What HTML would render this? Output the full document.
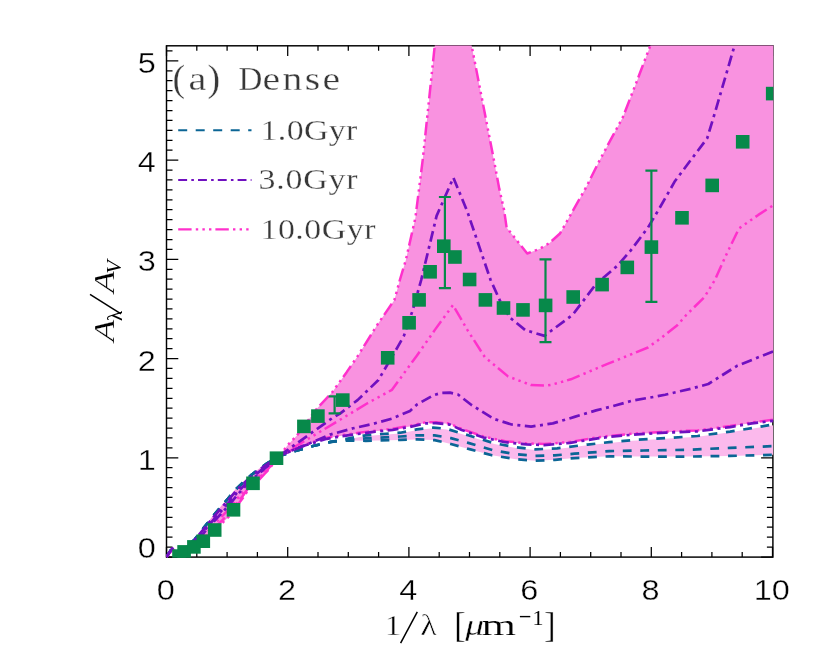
<!DOCTYPE html>
<html><head><meta charset="utf-8"><title>chart</title>
<style>
html,body{margin:0;padding:0;background:#fff;}
body{width:830px;height:656px;overflow:hidden;}
svg{display:block;will-change:transform;}
text{font-family:"Liberation Sans",sans-serif;stroke:#fff;stroke-width:0.35px;}
.ser{font-family:"Liberation Serif",serif;stroke-width:0.3px;}
</style></head><body>
<svg width="830" height="656" viewBox="0 0 830 656">
<rect x="0" y="0" width="830" height="656" fill="#fff"/>
<defs><clipPath id="c"><rect x="166.5" y="45.5" width="606.8" height="512.3"/></clipPath></defs>

<g stroke="#000" fill="none" stroke-linecap="butt">
<rect x="166.5" y="45.8" width="606.4" height="511.3" stroke-width="1.45"/>
<path d="M166.50,557.1 v-10.2 M166.50,45.8 v10.2 M196.80,557.1 v-5.0 M196.80,45.8 v5.0 M227.10,557.1 v-5.0 M227.10,45.8 v5.0 M257.40,557.1 v-5.0 M257.40,45.8 v5.0 M287.70,557.1 v-10.2 M287.70,45.8 v10.2 M318.00,557.1 v-5.0 M318.00,45.8 v5.0 M348.30,557.1 v-5.0 M348.30,45.8 v5.0 M378.60,557.1 v-5.0 M378.60,45.8 v5.0 M408.90,557.1 v-10.2 M408.90,45.8 v10.2 M439.20,557.1 v-5.0 M439.20,45.8 v5.0 M469.50,557.1 v-5.0 M469.50,45.8 v5.0 M499.80,557.1 v-5.0 M499.80,45.8 v5.0 M530.10,557.1 v-10.2 M530.10,45.8 v10.2 M560.40,557.1 v-5.0 M560.40,45.8 v5.0 M590.70,557.1 v-5.0 M590.70,45.8 v5.0 M621.00,557.1 v-5.0 M621.00,45.8 v5.0 M651.30,557.1 v-10.2 M651.30,45.8 v10.2 M681.60,557.1 v-5.0 M681.60,45.8 v5.0 M711.90,557.1 v-5.0 M711.90,45.8 v5.0 M742.20,557.1 v-5.0 M742.20,45.8 v5.0 M772.50,557.1 v-10.2 M772.50,45.8 v10.2 M166.5,557.00 h11.8 M772.9,557.00 h-11.8 M166.5,547.08 h6.0 M772.9,547.08 h-6.0 M166.5,537.16 h6.0 M772.9,537.16 h-6.0 M166.5,527.23 h6.0 M772.9,527.23 h-6.0 M166.5,517.31 h6.0 M772.9,517.31 h-6.0 M166.5,507.39 h6.0 M772.9,507.39 h-6.0 M166.5,497.47 h6.0 M772.9,497.47 h-6.0 M166.5,487.55 h6.0 M772.9,487.55 h-6.0 M166.5,477.62 h6.0 M772.9,477.62 h-6.0 M166.5,467.70 h6.0 M772.9,467.70 h-6.0 M166.5,457.78 h11.8 M772.9,457.78 h-11.8 M166.5,447.86 h6.0 M772.9,447.86 h-6.0 M166.5,437.94 h6.0 M772.9,437.94 h-6.0 M166.5,428.01 h6.0 M772.9,428.01 h-6.0 M166.5,418.09 h6.0 M772.9,418.09 h-6.0 M166.5,408.17 h6.0 M772.9,408.17 h-6.0 M166.5,398.25 h6.0 M772.9,398.25 h-6.0 M166.5,388.33 h6.0 M772.9,388.33 h-6.0 M166.5,378.40 h6.0 M772.9,378.40 h-6.0 M166.5,368.48 h6.0 M772.9,368.48 h-6.0 M166.5,358.56 h11.8 M772.9,358.56 h-11.8 M166.5,348.64 h6.0 M772.9,348.64 h-6.0 M166.5,338.72 h6.0 M772.9,338.72 h-6.0 M166.5,328.79 h6.0 M772.9,328.79 h-6.0 M166.5,318.87 h6.0 M772.9,318.87 h-6.0 M166.5,308.95 h6.0 M772.9,308.95 h-6.0 M166.5,299.03 h6.0 M772.9,299.03 h-6.0 M166.5,289.11 h6.0 M772.9,289.11 h-6.0 M166.5,279.18 h6.0 M772.9,279.18 h-6.0 M166.5,269.26 h6.0 M772.9,269.26 h-6.0 M166.5,259.34 h11.8 M772.9,259.34 h-11.8 M166.5,249.42 h6.0 M772.9,249.42 h-6.0 M166.5,239.50 h6.0 M772.9,239.50 h-6.0 M166.5,229.57 h6.0 M772.9,229.57 h-6.0 M166.5,219.65 h6.0 M772.9,219.65 h-6.0 M166.5,209.73 h6.0 M772.9,209.73 h-6.0 M166.5,199.81 h6.0 M772.9,199.81 h-6.0 M166.5,189.89 h6.0 M772.9,189.89 h-6.0 M166.5,179.96 h6.0 M772.9,179.96 h-6.0 M166.5,170.04 h6.0 M772.9,170.04 h-6.0 M166.5,160.12 h11.8 M772.9,160.12 h-11.8 M166.5,150.20 h6.0 M772.9,150.20 h-6.0 M166.5,140.28 h6.0 M772.9,140.28 h-6.0 M166.5,130.35 h6.0 M772.9,130.35 h-6.0 M166.5,120.43 h6.0 M772.9,120.43 h-6.0 M166.5,110.51 h6.0 M772.9,110.51 h-6.0 M166.5,100.59 h6.0 M772.9,100.59 h-6.0 M166.5,90.67 h6.0 M772.9,90.67 h-6.0 M166.5,80.74 h6.0 M772.9,80.74 h-6.0 M166.5,70.82 h6.0 M772.9,70.82 h-6.0 M166.5,60.90 h11.8 M772.9,60.90 h-11.8 M166.5,50.98 h6.0 M772.9,50.98 h-6.0" stroke-width="1.25"/>
</g>
<g clip-path="url(#c)">
<path d="M348.0,439.2 L365.7,436.0 L400.4,433.4 L416.8,430.1 L433.3,428.3 L446.5,429.5 L468.2,436.0 L494.2,444.0 L515.9,447.9 L535.4,450.1 L557.1,449.0 L587.5,445.3 L609.2,442.9 L632.5,440.8 L665.1,438.8 L697.6,436.7 L730.1,432.3 L751.8,428.8 L773.3,425.2 L773.3,454.8 L730.1,455.9 L686.7,456.6 L643.4,456.6 L609.2,456.3 L574.5,458.1 L554.9,459.8 L535.4,460.7 L515.9,459.2 L492.0,455.3 L470.4,449.4 L450.8,444.0 L434.6,440.1 L416.8,439.4 L400.4,439.9 L365.7,440.8 L348.0,440.5 Z" fill="#fbb9ec"/>
<path d="M166.5,557.0 L169.5,552.0 L170.0,551.3 L172.3,548.3 L173.0,549.0 L177.0,553.0 L184.0,549.0 L184.1,548.9 L190.0,544.0 L193.9,540.1 L194.6,539.4 L202.4,529.1 L203.3,528.0 L213.4,515.3 L214.7,513.8 L221.6,505.5 L223.4,503.4 L228.9,497.0 L236.8,487.8 L242.3,482.8 L247.8,477.8 L251.9,474.1 L258.0,469.6 L265.0,464.5 L267.0,463.3 L273.0,459.6 L279.0,456.0 L284.9,448.8 L287.8,445.0 L297.1,435.2 L316.6,409.0 L332.4,392.0 L346.5,372.4 L357.8,355.9 L377.1,325.1 L394.4,300.0 L400.0,279.5 L405.8,260.2 L415.4,217.8 L422.7,160.0 L434.7,46.0 L440.0,-10.0 L453.0,-120.0 L466.0,-10.0 L471.7,46.0 L493.9,160.0 L499.3,188.9 L504.1,210.1 L506.6,227.5 L527.2,253.5 L540.0,248.7 L549.6,242.9 L560.0,233.5 L568.9,217.8 L586.3,187.0 L599.8,160.0 L622.9,117.1 L636.4,82.4 L649.9,46.7 L665.0,5.0 L700.0,-100.0 L790.0,-300.0 L790.0,-300.0 L790.0,420.8 L773.3,420.3 L751.8,422.9 L730.1,426.6 L697.6,430.9 L665.1,432.2 L632.5,434.2 L610.0,436.3 L596.1,438.1 L570.1,442.4 L544.1,444.6 L526.7,443.9 L505.1,441.7 L483.4,437.0 L461.7,429.4 L449.7,424.1 L436.0,422.7 L425.0,422.9 L410.0,426.4 L392.7,429.3 L375.3,431.2 L357.0,433.6 L340.0,436.0 L326.8,438.3 L300.0,446.5 L279.0,456.0 L273.0,464.0 L267.0,471.4 L265.0,473.5 L258.0,481.0 L251.9,486.7 L247.8,490.6 L242.3,498.8 L236.8,506.1 L228.9,516.7 L223.4,521.9 L221.6,523.6 L214.7,530.0 L213.4,531.3 L203.3,541.2 L202.4,541.7 L194.6,546.5 L193.9,546.9 L190.0,548.9 L184.1,551.9 L184.0,551.9 L177.0,554.0 L173.0,549.5 L172.3,550.2 L170.0,552.5 L169.5,553.1 L166.5,557.0 Z" fill="#f992e0"/>
<path d="M166.5,557.0 L169.5,552.0 L170.0,551.4 L172.3,548.4 L173.0,549.0 L177.0,553.0 L184.0,549.1 L184.1,549.0 L190.0,544.1 L193.9,540.3 L194.6,539.6 L202.4,529.5 L203.3,528.4 L213.4,515.8 L214.7,514.2 L221.6,506.1 L223.4,504.0 L228.9,497.6 L236.8,488.4 L242.3,483.3 L247.8,478.2 L251.9,474.5 L258.0,470.0 L265.0,464.8 L267.0,463.5 L273.0,459.8 L279.0,456.0 L295.3,451.0 L313.1,446.0 L330.9,441.9 L348.0,438.5 L365.7,435.3 L400.4,432.7 L416.8,429.4 L433.3,427.6 L446.5,428.8 L468.2,435.3 L494.2,443.3 L515.9,447.2 L535.4,449.4 L557.1,448.3 L587.5,444.6 L609.2,442.2 L632.5,440.1 L665.1,438.1 L697.6,436.0 L730.1,431.6 L751.8,428.1 L773.3,424.5" fill="none" stroke="#0b6595" stroke-width="2.7" stroke-dasharray="8.8 8.7" stroke-dashoffset="0.0" stroke-linejoin="round"/>
<path d="M166.5,557.0 L169.5,552.0 L170.0,551.4 L172.3,548.4 L173.0,549.0 L177.0,553.0 L184.0,549.1 L184.1,549.0 L190.0,544.1 L193.9,540.3 L194.6,539.6 L202.4,529.5 L203.3,528.4 L213.4,515.8 L214.7,514.2 L221.6,506.1 L223.4,504.0 L228.9,497.6 L236.8,488.4 L242.3,483.3 L247.8,478.2 L251.9,474.5 L258.0,470.0 L265.0,464.8 L267.0,463.5 L273.0,459.8 L279.0,456.0 L295.3,451.0 L313.1,446.0 L330.9,441.9 L348.0,439.5 L365.7,438.4 L400.4,436.5 L416.8,435.3 L434.6,435.3 L450.8,438.1 L468.2,442.9 L494.2,450.5 L515.9,454.2 L535.4,455.9 L554.9,455.3 L574.5,453.7 L609.2,451.1 L643.4,450.5 L686.7,449.8 L730.1,447.9 L773.3,446.1" fill="none" stroke="#0b6595" stroke-width="2.7" stroke-dasharray="8.8 8.7" stroke-dashoffset="0.0" stroke-linejoin="round"/>
<path d="M166.5,557.0 L169.5,552.0 L170.0,551.4 L172.3,548.4 L173.0,549.0 L177.0,553.0 L184.0,549.1 L184.1,549.0 L190.0,544.1 L193.9,540.3 L194.6,539.6 L202.4,529.5 L203.3,528.4 L213.4,515.8 L214.7,514.2 L221.6,506.1 L223.4,504.0 L228.9,497.6 L236.8,488.4 L242.3,483.3 L247.8,478.2 L251.9,474.5 L258.0,470.0 L265.0,464.8 L267.0,463.5 L273.0,459.8 L279.0,456.0 L295.3,451.0 L313.1,446.0 L330.9,441.9 L348.0,440.5 L365.7,440.8 L400.4,439.9 L416.8,439.4 L434.6,440.1 L450.8,444.0 L470.4,449.4 L492.0,455.3 L515.9,459.2 L535.4,460.7 L554.9,459.8 L574.5,458.1 L609.2,456.3 L643.4,456.6 L686.7,456.6 L730.1,455.9 L773.3,454.8" fill="none" stroke="#0b6595" stroke-width="2.7" stroke-dasharray="8.8 8.7" stroke-dashoffset="0.0" stroke-linejoin="round"/>
<path d="M166.5,557.0 L169.5,552.7 L170.0,552.1 L172.3,549.5 L173.0,549.3 L177.0,553.6 L184.0,550.8 L184.1,550.8 L190.0,547.0 L193.9,544.3 L194.6,543.8 L202.4,536.9 L203.3,536.2 L213.4,525.2 L214.7,523.8 L221.6,516.7 L223.4,514.9 L228.9,509.2 L236.8,499.2 L242.3,492.7 L247.8,485.7 L251.9,481.9 L258.0,476.7 L265.0,470.1 L267.0,468.3 L273.0,462.3 L279.0,456.0 L284.9,448.8 L287.8,445.0 L297.1,435.2 L316.6,409.0 L332.4,392.0 L346.5,372.4 L357.8,355.9 L377.1,325.1 L394.4,300.0 L400.0,279.5 L405.8,260.2 L415.4,217.8 L422.7,160.0 L434.7,46.0 L440.0,-10.0 L453.0,-120.0 L466.0,-10.0 L471.7,46.0 L493.9,160.0 L499.3,188.9 L504.1,210.1 L506.6,227.5 L527.2,253.5 L540.0,248.7 L549.6,242.9 L560.0,233.5 L568.9,217.8 L586.3,187.0 L599.8,160.0 L622.9,117.1 L636.4,82.4 L649.9,46.7 L665.0,5.0 L700.0,-100.0 L790.0,-300.0" fill="none" stroke="#ff30cc" stroke-width="2.5" stroke-dasharray="13.4 4.2 2.4 4.2 2.4 4.2 2.4 4.0" stroke-dashoffset="0.0" stroke-linejoin="round"/>
<path d="M166.5,557.0 L169.5,553.0 L170.0,552.3 L172.3,549.9 L173.0,549.4 L177.0,553.9 L184.0,551.5 L184.1,551.5 L190.0,548.2 L193.9,545.9 L194.6,545.4 L202.4,539.8 L203.3,539.2 L213.4,528.9 L214.7,527.6 L221.6,520.9 L223.4,519.1 L228.9,513.7 L236.8,503.4 L242.3,496.4 L247.8,488.7 L251.9,484.8 L258.0,479.3 L265.0,472.2 L267.0,470.2 L273.0,463.3 L279.0,456.0 L304.9,440.8 L340.0,419.8 L367.4,403.3 L392.0,389.8 L417.0,355.4 L434.7,330.1 L453.0,305.1 L467.5,330.1 L484.8,357.1 L508.0,376.4 L531.1,385.1 L546.5,385.6 L551.6,384.7 L570.8,379.3 L607.5,363.9 L648.0,347.5 L660.0,338.8 L677.3,325.3 L686.5,314.7 L704.3,297.3 L714.9,280.0 L725.5,256.4 L739.0,228.4 L758.3,214.9 L773.3,205.3" fill="none" stroke="#ff30cc" stroke-width="2.5" stroke-dasharray="13.4 4.2 2.4 4.2 2.4 4.2 2.4 4.0" stroke-dashoffset="11.0" stroke-linejoin="round"/>
<path d="M166.5,557.0 L169.5,553.1 L170.0,552.5 L172.3,550.2 L173.0,549.5 L177.0,554.0 L184.0,551.9 L184.1,551.9 L190.0,548.9 L193.9,546.9 L194.6,546.5 L202.4,541.7 L203.3,541.2 L213.4,531.3 L214.7,530.0 L221.6,523.6 L223.4,521.9 L228.9,516.7 L236.8,506.1 L242.3,498.8 L247.8,490.6 L251.9,486.7 L258.0,481.0 L265.0,473.5 L267.0,471.4 L273.0,464.0 L279.0,456.0 L300.0,446.0 L326.8,437.8 L340.0,435.5 L357.0,433.1 L375.3,430.7 L392.7,428.8 L410.0,425.9 L425.0,422.4 L436.0,422.2 L449.7,423.6 L461.7,428.9 L483.4,436.5 L505.1,441.2 L526.7,443.4 L544.1,444.1 L570.1,441.9 L596.1,437.6 L610.0,435.8 L632.5,433.7 L665.1,431.7 L697.6,430.4 L730.1,426.1 L751.8,422.4 L773.3,419.8" fill="none" stroke="#ff30cc" stroke-width="2.5" stroke-dasharray="13.4 4.2 2.4 4.2 2.4 4.2 2.4 4.0" stroke-dashoffset="20.0" stroke-linejoin="round"/>
<path d="M166.5,557.0 L169.5,552.1 L170.0,551.5 L172.3,548.5 L173.0,549.1 L177.0,553.1 L184.0,549.4 L184.1,549.3 L190.0,544.6 L193.9,540.9 L194.6,540.2 L202.4,530.6 L203.3,529.6 L213.4,517.2 L214.7,515.7 L221.6,507.7 L223.4,505.6 L228.9,499.4 L236.8,490.0 L242.3,484.7 L247.8,479.4 L251.9,475.6 L258.0,471.0 L265.0,465.6 L267.0,464.3 L273.0,460.2 L279.0,456.0 L315.8,429.8 L332.3,418.1 L340.0,413.6 L357.8,399.9 L378.4,380.0 L398.0,346.4 L403.9,335.9 L412.5,310.8 L421.2,280.0 L436.6,215.9 L453.4,177.7 L467.5,212.0 L490.6,280.0 L500.2,301.2 L509.9,317.6 L525.3,330.1 L544.6,335.9 L549.6,332.0 L572.8,314.7 L595.9,284.1 L617.1,266.0 L630.6,250.6 L648.0,227.5 L659.5,208.2 L674.9,181.2 L690.8,160.0 L707.2,138.3 L715.9,109.4 L725.5,76.6 L734.2,46.7 L743.0,16.0" fill="none" stroke="#7010c0" stroke-width="2.7" stroke-dasharray="10.8 4.5 3 4.5" stroke-dashoffset="0.0" stroke-linejoin="round"/>
<path d="M166.5,557.0 L169.5,552.3 L170.0,551.7 L172.3,548.8 L173.0,549.1 L177.0,553.3 L184.0,549.8 L184.1,549.8 L190.0,545.4 L193.9,542.0 L194.6,541.4 L202.4,532.6 L203.3,531.7 L213.4,519.8 L214.7,518.3 L221.6,510.6 L223.4,508.6 L228.9,502.5 L236.8,492.9 L242.3,487.3 L247.8,481.4 L251.9,477.6 L258.0,472.8 L265.0,467.0 L267.0,465.6 L273.0,460.9 L279.0,456.0 L314.5,441.4 L330.0,434.6 L353.1,428.3 L372.4,424.0 L391.7,418.7 L410.0,411.0 L417.0,404.5 L433.3,395.3 L441.0,393.0 L450.0,392.6 L458.0,394.5 L471.5,405.0 L494.2,419.0 L511.6,424.5 L531.1,426.6 L552.8,423.4 L574.5,416.9 L596.1,410.4 L613.3,406.0 L632.5,400.6 L655.7,396.6 L665.1,394.7 L691.1,388.7 L708.3,384.0 L737.1,365.8 L773.3,351.3" fill="none" stroke="#7010c0" stroke-width="2.7" stroke-dasharray="10.8 4.5 3 4.5" stroke-dashoffset="7.0" stroke-linejoin="round"/>
<path d="M166.5,557.0 L169.5,552.5 L170.0,551.8 L172.3,549.1 L173.0,549.2 L177.0,553.4 L184.0,550.2 L184.1,550.2 L190.0,546.1 L193.9,543.0 L194.6,542.4 L202.4,534.4 L203.3,533.5 L213.4,522.0 L214.7,520.6 L221.6,513.1 L223.4,511.2 L228.9,505.3 L236.8,495.5 L242.3,489.5 L247.8,483.2 L251.9,479.4 L258.0,474.4 L265.0,468.3 L267.0,466.7 L273.0,461.5 L279.0,456.0 L300.0,447.0 L326.8,438.8 L340.0,436.5 L357.0,434.1 L375.3,431.7 L392.7,429.8 L410.0,426.9 L425.0,423.4 L436.0,423.2 L449.7,424.6 L461.7,429.9 L483.4,437.5 L505.1,442.2 L526.7,444.4 L544.1,445.1 L570.1,442.9 L596.1,438.6 L610.0,436.8 L632.5,434.7 L665.1,432.7 L697.6,431.4 L730.1,427.1 L751.8,423.4 L773.3,420.8" fill="none" stroke="#7010c0" stroke-width="2.7" stroke-dasharray="10.8 4.5 3 4.5" stroke-dashoffset="3.0" stroke-linejoin="round"/>
<path d="M334.6,396.4 V413.3 M328.6,396.4 h12 M328.6,413.3 h12" stroke="#07894a" stroke-width="2.2" fill="none"/>
<path d="M444.9,197.0 V288.1 M438.9,197.0 h12 M438.9,288.1 h12" stroke="#07894a" stroke-width="2.2" fill="none"/>
<path d="M545.5,259.3 V342.1 M539.5,259.3 h12 M539.5,342.1 h12" stroke="#07894a" stroke-width="2.2" fill="none"/>
<path d="M651.4,170.6 V301.8 M645.4,170.6 h12 M645.4,301.8 h12" stroke="#07894a" stroke-width="2.2" fill="none"/>
<rect x="172.2" y="549.3" width="13.6" height="13.6" fill="#07894a"/>
<rect x="177.3" y="545.1" width="13.6" height="13.6" fill="#07894a"/>
<rect x="187.1" y="540.1" width="13.6" height="13.6" fill="#07894a"/>
<rect x="196.5" y="534.4" width="13.6" height="13.6" fill="#07894a"/>
<rect x="207.9" y="523.2" width="13.6" height="13.6" fill="#07894a"/>
<rect x="226.7" y="503.0" width="13.6" height="13.6" fill="#07894a"/>
<rect x="246.2" y="476.5" width="13.6" height="13.6" fill="#07894a"/>
<rect x="269.7" y="451.4" width="13.6" height="13.6" fill="#07894a"/>
<rect x="297.1" y="419.6" width="13.6" height="13.6" fill="#07894a"/>
<rect x="311.1" y="409.3" width="13.6" height="13.6" fill="#07894a"/>
<rect x="336.0" y="393.3" width="13.6" height="13.6" fill="#07894a"/>
<rect x="380.9" y="351.0" width="13.6" height="13.6" fill="#07894a"/>
<rect x="402.3" y="316.0" width="13.6" height="13.6" fill="#07894a"/>
<rect x="412.3" y="293.1" width="13.6" height="13.6" fill="#07894a"/>
<rect x="423.3" y="265.0" width="13.6" height="13.6" fill="#07894a"/>
<rect x="437.0" y="239.4" width="13.6" height="13.6" fill="#07894a"/>
<rect x="448.1" y="250.2" width="13.6" height="13.6" fill="#07894a"/>
<rect x="462.8" y="272.7" width="13.6" height="13.6" fill="#07894a"/>
<rect x="478.6" y="293.1" width="13.6" height="13.6" fill="#07894a"/>
<rect x="496.7" y="301.2" width="13.6" height="13.6" fill="#07894a"/>
<rect x="516.2" y="303.1" width="13.6" height="13.6" fill="#07894a"/>
<rect x="538.8" y="298.6" width="13.6" height="13.6" fill="#07894a"/>
<rect x="566.4" y="290.2" width="13.6" height="13.6" fill="#07894a"/>
<rect x="595.3" y="277.8" width="13.6" height="13.6" fill="#07894a"/>
<rect x="620.5" y="260.6" width="13.6" height="13.6" fill="#07894a"/>
<rect x="644.6" y="240.3" width="13.6" height="13.6" fill="#07894a"/>
<rect x="675.2" y="211.0" width="13.6" height="13.6" fill="#07894a"/>
<rect x="705.4" y="178.6" width="13.6" height="13.6" fill="#07894a"/>
<rect x="735.9" y="135.0" width="13.6" height="13.6" fill="#07894a"/>
<rect x="765.9" y="86.8" width="13.6" height="13.6" fill="#07894a"/>
</g>
<path d="M178.2,130.3 H251.5" stroke="#0b6595" stroke-width="2.1" stroke-dasharray="9 8.5" fill="none"/>
<path d="M178.2,180 H251.5" stroke="#7010c0" stroke-width="2.2" stroke-dasharray="8.9 4.2 2.6 4.1" fill="none"/>
<path d="M178.2,229.4 H249" stroke="#ff30cc" stroke-width="2.2" stroke-dasharray="13.4 4.2 2.4 4.2 2.4 4.2 2.4 4.0" fill="none"/>
<text transform="translate(165.8,600.0) scale(1.10,1)" font-size="29.5" text-anchor="middle">0</text>
<text transform="translate(287.0,600.0) scale(1.10,1)" font-size="29.5" text-anchor="middle">2</text>
<text transform="translate(408.2,600.0) scale(1.10,1)" font-size="29.5" text-anchor="middle">4</text>
<text transform="translate(529.4,600.0) scale(1.10,1)" font-size="29.5" text-anchor="middle">6</text>
<text transform="translate(650.6,600.0) scale(1.10,1)" font-size="29.5" text-anchor="middle">8</text>
<text transform="translate(771.8,600.0) scale(1.10,1)" font-size="29.5" text-anchor="middle">10</text>
<text transform="translate(155.8,469.8) scale(1.10,1)" font-size="29.5" text-anchor="end">1</text>
<text transform="translate(155.8,370.6) scale(1.10,1)" font-size="29.5" text-anchor="end">2</text>
<text transform="translate(155.8,271.3) scale(1.10,1)" font-size="29.5" text-anchor="end">3</text>
<text transform="translate(155.8,172.1) scale(1.10,1)" font-size="29.5" text-anchor="end">4</text>
<text transform="translate(155.8,72.9) scale(1.10,1)" font-size="29.5" text-anchor="end">5</text>
<text transform="translate(155.8,557.9) scale(1.10,1)" font-size="29.5" text-anchor="end">0</text>
<text class="ser" transform="translate(172.6,91.2) scale(1.0,1)" font-size="38" fill="#383838">(</text>
<text class="ser" transform="translate(188.6,89.7) scale(1.22,1)" font-size="33" fill="#383838">a</text>
<text class="ser" transform="translate(207.6,91.2) scale(1.0,1)" font-size="38" fill="#383838">)</text>
<text class="ser" transform="translate(238.6,89.7) scale(1.0,1)" font-size="33" fill="#383838">D</text>
<text class="ser" transform="translate(262.6,89.7) scale(1.200,1)" x="0" y="0" font-size="33.0" fill="#383838" textLength="64.6" lengthAdjust="spacing">ense</text>
<text class="ser" transform="translate(260.5,140.0) scale(1.150,1)" x="0" y="0" font-size="29.5" fill="#383838" textLength="84.3" lengthAdjust="spacing">1.0Gyr</text>
<text class="ser" transform="translate(258.5,189.1) scale(1.150,1)" x="0" y="0" font-size="29.5" fill="#383838" textLength="86.1" lengthAdjust="spacing">3.0Gyr</text>
<text class="ser" transform="translate(260.5,238.7) scale(1.150,1)" x="0" y="0" font-size="29.5" fill="#383838" textLength="100.0" lengthAdjust="spacing">10.0Gyr</text>
<text class="ser" transform="translate(384.3,635.4) scale(1.150,1)" font-size="30.0"  style="stroke-width:0.5px" fill="#000">1</text>
<path d="M400.6,643.2 L417.3,611.8" stroke="#000" stroke-width="1.5" fill="none"/>
<text class="ser" transform="translate(420.3,635.4) scale(1.150,1)" font-size="30.0"  style="stroke-width:0.5px" fill="#000">λ</text>
<text class="ser" transform="translate(454.0,637.2) scale(1.000,1)" font-size="36.0"  style="stroke-width:0.4px" fill="#000">[</text>
<text class="ser" transform="translate(465.3,635.4) scale(1.250,1)" font-size="30.0" font-style="italic" style="stroke-width:0.3px" fill="#000">μ</text>
<text class="ser" transform="translate(481.6,635.4) scale(1.480,1)" font-size="30.0"  style="stroke-width:0.2px" fill="#000">m</text>
<path d="M519.9,616.6 H530.3" stroke="#000" stroke-width="1.4"/>
<text class="ser" transform="translate(532.6,625.1) scale(1.100,1)" font-size="20.0"  style="stroke-width:0.0px" fill="#000">1</text>
<text class="ser" transform="translate(543.8,637.2) scale(1.000,1)" font-size="36.0"  style="stroke-width:0.4px" fill="#000">]</text>
<g transform="translate(114.3,343.6) rotate(-90)" fill="#000">
<text class="ser" transform="translate(1.8,0.0) scale(1.200,1)" font-size="30.0" font-style="italic" style="stroke-width:0.2px" fill="#000">A</text>
<text class="ser" transform="translate(22.6,7.2) scale(1.050,1)" font-size="20.0"  style="stroke-width:0.0px" fill="#000">λ</text>
<path d="M29.8,6.7 L49.2,-24.3" stroke="#000" stroke-width="1.5" fill="none"/>
<text class="ser" transform="translate(50.6,0.0) scale(1.200,1)" font-size="30.0" font-style="italic" style="stroke-width:0.2px" fill="#000">A</text>
<text class="ser" transform="translate(69.8,7.0) scale(1.050,1)" font-size="21.0" font-style="italic" style="stroke-width:0.0px" fill="#000">V</text>
</g>
</svg></body></html>
